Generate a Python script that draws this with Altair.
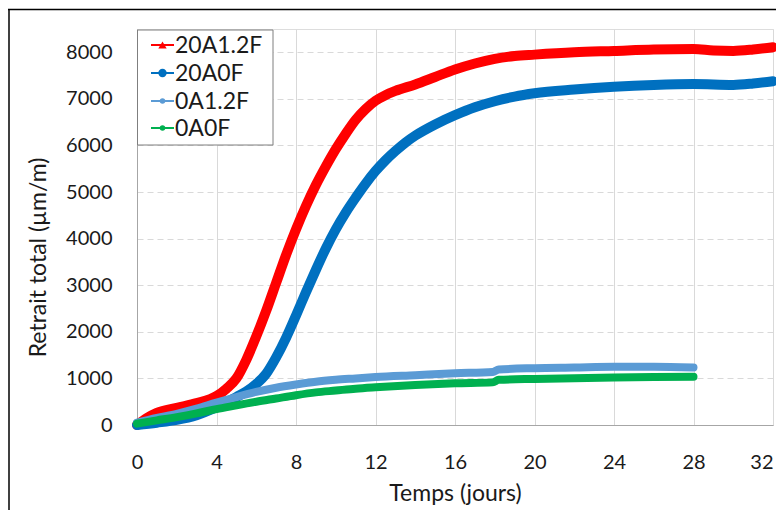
import altair as alt
import pandas as pd

# ---- data ----
series_names = ["20A1.2F", "20A0F", "0A1.2F", "0A0F"]
series_colors = ["#FF0000", "#0070C0", "#5B9BD5", "#00B050"]

red_days = [0, 0.5, 1, 2, 3, 4, 4.5, 5, 5.5, 6, 6.5, 7, 7.5, 8, 8.5, 9, 9.5, 10, 10.5, 11, 11.5, 12,
            12.5, 13, 14, 15, 16, 17, 18, 19, 20, 22, 24, 26, 28, 29, 30, 31, 32]
red_vals = [0, 150, 260, 370, 470, 620, 780, 1000, 1400, 1900, 2450, 3050, 3650, 4200, 4700, 5150, 5550,
            5920, 6250, 6550, 6780, 6960, 7080, 7170, 7310, 7470, 7630, 7760, 7860, 7920, 7950, 8000,
            8030, 8060, 8070, 8040, 8030, 8060, 8110]

blue_days = [0, 1, 2, 3, 4, 4.5, 5, 5.5, 6, 6.5, 7, 7.5, 8, 8.5, 9, 9.5, 10, 10.5, 11, 11.5, 12, 12.5,
             13, 13.5, 14, 15, 16, 17, 18, 19, 20, 22, 24, 26, 28, 30, 31, 32]
blue_vals = [0, 50, 110, 210, 380, 480, 600, 720, 880, 1100, 1450, 1870, 2350, 2850, 3330, 3790, 4200,
             4560, 4880, 5180, 5450, 5680, 5880, 6060, 6210, 6450, 6650, 6820, 6950, 7050, 7120, 7200,
             7260, 7300, 7320, 7300, 7330, 7380]

lblue_days = [0, 1, 2, 3, 4, 5, 6, 7, 8, 9, 10, 11, 12, 14, 16, 17.9, 18.2, 20, 22, 24, 26, 28]
lblue_vals = [50, 150, 240, 350, 480, 600, 710, 800, 870, 930, 970, 1000, 1030, 1070, 1110, 1140, 1190,
              1220, 1235, 1250, 1250, 1235]

green_days = [0, 1, 2, 3, 4, 5, 6, 7, 8, 9, 10, 11, 12, 14, 16, 17.9, 18.2, 20, 22, 24, 26, 28]
green_vals = [30, 100, 170, 250, 340, 420, 500, 570, 640, 700, 740, 780, 810, 860, 895, 915, 970, 990,
              1005, 1020, 1030, 1035]

x_ticks = [0, 4, 8, 12, 16, 20, 24, 28, 32]
y_ticks = [0, 1000, 2000, 3000, 4000, 5000, 6000, 7000, 8000]

FONT = "Lato"
TEXT = "#1A1A1A"

all_days = [red_days, blue_days, lblue_days, green_days]
all_vals = [red_vals, blue_vals, lblue_vals, green_vals]
widths = [10, 10, 8, 8]

xscale = alt.Scale(domain=[0, 32], nice=False)
yscale = alt.Scale(domain=[0, 8500], nice=False)

xaxis = alt.Axis(values=x_ticks, title="Temps (jours)", grid=True, gridColor="#D9D9D9",
                 gridDash=[], ticks=False, tickSize=0, domainColor="#A6A6A6",
                 labelFlush=False, format="d",
                 labelAlign=alt.ExprRef(expr="datum.value >= 32 ? 'right' : 'center'"),
                 labelFont=FONT, labelFontSize=20, labelColor=TEXT, labelPadding=27,
                 titleFont=FONT, titleFontSize=23, titleFontWeight="normal", titleColor=TEXT,
                 titleY=68, titleBaseline="middle")
yaxis = alt.Axis(values=y_ticks, title="Retrait total (µm/m)", grid=True, gridColor="#D9D9D9",
                 gridDash=[6, 4], ticks=False, tickSize=0, domainColor="#A6A6A6",
                 labelFlush=False, format="d",
                 labelFont=FONT, labelFontSize=20, labelColor=TEXT, labelPadding=25,
                 titleFont=FONT, titleFontSize=23, titleFontWeight="normal", titleColor=TEXT,
                 titleX=-99, titleY=228, titleAngle=-90, titleBaseline="middle", titleAlign="center")

layers = []
for i, name in enumerate(series_names):
    df = pd.DataFrame({"t": all_days[i], "v": all_vals[i], "s": name})
    layers.append(
        alt.Chart(df).mark_line(color=series_colors[i], strokeWidth=widths[i],
                                interpolate="monotone", strokeCap="round", strokeJoin="round")
        .encode(x=alt.X("t:Q", scale=xscale, axis=xaxis),
                y=alt.Y("v:Q", scale=yscale, axis=yaxis))
    )

# ---- legend box (drawn manually to show line + marker symbols) ----
leg_df = pd.DataFrame({"s": series_names})
layers.append(
    alt.Chart(leg_df.head(1)).mark_rect(fill="white", stroke="#7F7F7F", strokeWidth=1)
    .encode(x=alt.value(0.5), x2=alt.value(136), y=alt.value(1), y2=alt.value(116))
)
row_y = [16, 44, 72, 99]
shapes = ["triangle-up", "circle", "circle", "circle"]
sizes = [70, 70, 30, 30]
for i, name in enumerate(series_names):
    one = leg_df.iloc[[i]]
    layers.append(alt.Chart(one).mark_rule(color=series_colors[i], strokeWidth=2)
                  .encode(x=alt.value(14), x2=alt.value(37), y=alt.value(row_y[i])))
    layers.append(alt.Chart(one).mark_point(shape=shapes[i], size=sizes[i], filled=True,
                                            color=series_colors[i], opacity=1)
                  .encode(x=alt.value(25.5), y=alt.value(row_y[i])))
    layers.append(alt.Chart(one).mark_text(font=FONT, fontSize=23, color=TEXT, align="left",
                                           baseline="middle")
                  .encode(x=alt.value(38), y=alt.value(row_y[i] + 1), text="s:N"))

# ---- outer figure frame ----
frame = pd.DataFrame({"k": [0]})
layers.append(alt.Chart(frame).mark_rule(color="black", strokeWidth=1.5)
              .encode(x=alt.value(-129), x2=alt.value(660), y=alt.value(-19.5)))
layers.append(alt.Chart(frame).mark_rule(color="black", strokeWidth=1.5)
              .encode(x=alt.value(-128), y=alt.value(-20), y2=alt.value(500)))

chart = alt.layer(*layers).properties(
    width=636, height=396,
    autosize=alt.AutoSizeParams(type="none"),
    padding={"left": 129, "top": 21, "right": 3, "bottom": 85},
).configure_view(stroke="#A6A6A6", strokeWidth=1).configure(background="white")

chart.save("out.html", embed_options={"renderer": "svg", "actions": False})
